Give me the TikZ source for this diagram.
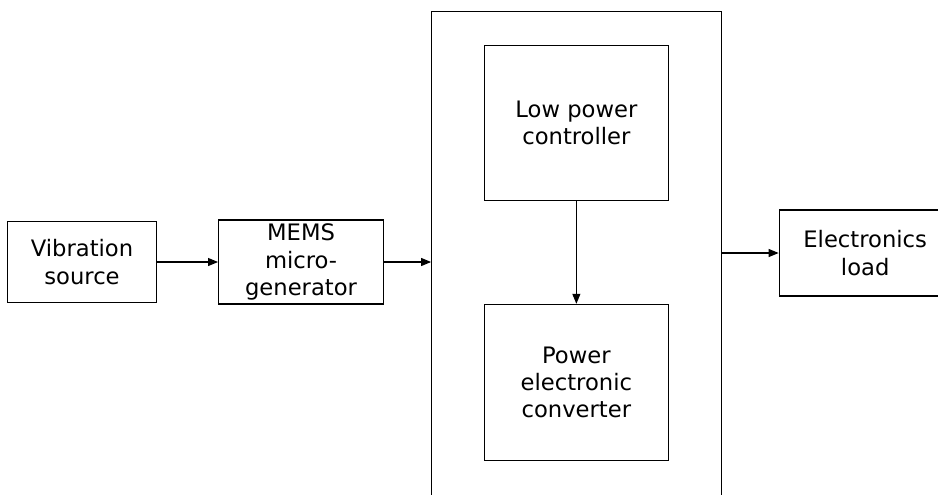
\documentclass[tikz,border=0pt]{standalone}
\usepackage{fontspec}
\setmainfont{DejaVu Sans}
\usepackage{tikz}
\usetikzlibrary{arrows.meta, positioning}

\begin{document}
\begin{tikzpicture}[
  box/.style={rectangle, draw, line width=0.8pt, align=center, font=\fontsize{17}{20.5}\selectfont},
  arrow/.style={-{Triangle[length=7.5pt, width=6pt]}, line width=0.8pt}
]
\useasboundingbox (-61.5pt,-174pt) rectangle (642pt,196.5pt);

% Source side
\node[box, minimum width=111.75pt, minimum height=60.75pt] (vib) at (0,0) {Vibration\\source};
\node[box, right=45.75pt of vib, minimum width=123.75pt, minimum height=63pt, inner sep=1pt] (mems) {MEMS\\micro-\\generator};

% Interface circuit (open at the bottom)
\node[right=35.25pt of mems, minimum width=217.5pt, minimum height=375pt, inner sep=0pt] (ic) {};
\draw[line width=0.8pt] (ic.south west) -- (ic.north west) -- (ic.north east) -- (ic.south east);

\node[box, below=24.75pt of ic.north, minimum width=138pt, minimum height=116.25pt] (lpc) {Low power\\controller};
\node[box, below=77.25pt of lpc, minimum width=138pt, minimum height=117pt] (pec) {Power\\electronic\\converter};

% Load
\node[box, right=42.75pt of ic, yshift=6.75pt, minimum width=129pt, minimum height=64.5pt] (load) {Electronics\\load};

% Arrows
\draw[arrow] (vib.east) -- (mems.west);
\draw[arrow] (mems.east) -- (mems.east -| ic.west);
\draw[arrow] (lpc.south) -- (pec.north);
\draw[arrow] (load.west -| ic.east) -- (load.west);

\end{tikzpicture}
\end{document}
